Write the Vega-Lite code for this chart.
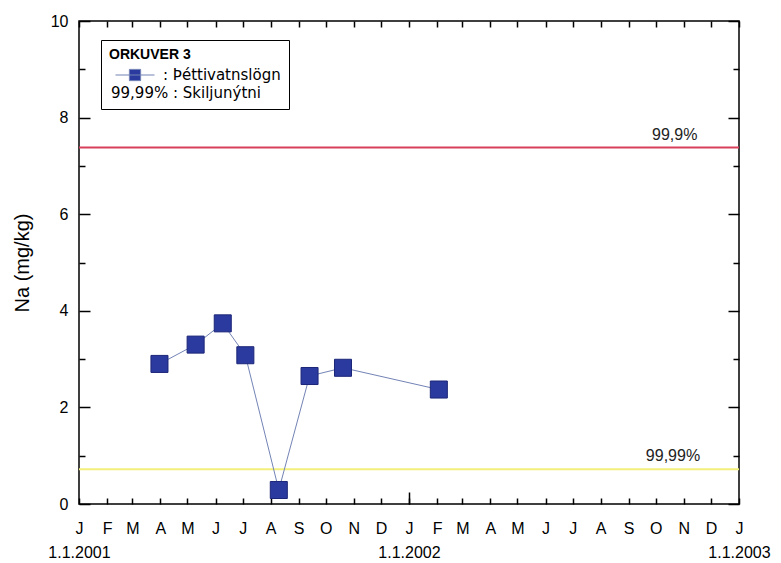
{
  "$schema": "https://vega.github.io/schema/vega-lite/v6.json",
  "width": 660,
  "height": 483,
  "autosize": {"type": "none"},
  "padding": {"left": 79, "top": 21, "right": 42, "bottom": 59},
  "background": "white",
  "config": {
    "view": {"stroke": "black", "strokeWidth": 1.5},
    "font": "Liberation Sans",
    "axis": {
      "domain": false,
      "grid": false,
      "tickColor": "black",
      "tickWidth": 1.5,
      "labelColor": "black",
      "labelFont": "Liberation Sans",
      "labelFontSize": 16,
      "titleFont": "Liberation Sans",
      "titleColor": "black",
      "labelOverlap": false,
      "labelFlush": false,
      "labelBound": false
    }
  },
  "datasets": {
    "na": [
      {"date": "2001-03-31", "na": 2.90, "series": "Þéttivatnslögn"},
      {"date": "2001-05-10", "na": 3.30, "series": "Þéttivatnslögn"},
      {"date": "2001-06-09", "na": 3.74, "series": "Þéttivatnslögn"},
      {"date": "2001-07-04", "na": 3.08, "series": "Þéttivatnslögn"},
      {"date": "2001-08-10", "na": 0.29, "series": "Þéttivatnslögn"},
      {"date": "2001-09-13", "na": 2.65, "series": "Þéttivatnslögn"},
      {"date": "2001-10-20", "na": 2.82, "series": "Þéttivatnslögn"},
      {"date": "2002-02-03", "na": 2.37, "series": "Þéttivatnslögn"}
    ],
    "limits": [
      {"label": "99,9%", "y": 7.38, "date": "2002-11-16", "color": "#d8405a"},
      {"label": "99,99%", "y": 0.72, "date": "2002-11-19", "color": "#f2f07a"}
    ]
  },
  "layer": [
    {
      "data": {"name": "limits"},
      "mark": {"type": "rule", "strokeWidth": 2},
      "encoding": {
        "y": {
          "field": "y", "type": "quantitative",
          "scale": {"domain": [0, 10], "nice": false},
          "axis": {"orient": "right", "values": [1, 3, 5, 7, 9], "tickSize": -6, "labels": false, "title": null}
        },
        "stroke": {"field": "color", "type": "nominal", "scale": null}
      }
    },
    {
      "data": {"name": "na"},
      "mark": {"type": "line", "strokeWidth": 1, "color": "#7383b5"},
      "encoding": {
        "x": {
          "field": "date", "type": "temporal",
          "scale": {"type": "utc", "domain": [{"year": 2001, "month": 1, "date": 1, "utc": true}, {"year": 2003, "month": 1, "date": 1, "utc": true}], "nice": false},
          "axis": {
            "orient": "bottom",
            "tickCount": {"interval": "month", "step": 1},
            "tickSize": -6,
            "labelPadding": 22,
            "labelLineHeight": 24,
            "labelExpr": "utcmonth(datum.value) === 0 ? [substring(utcFormat(datum.value, '%b'), 0, 1), '1.1.' + utcyear(datum.value)] : substring(utcFormat(datum.value, '%b'), 0, 1)",
            "title": null
          }
        },
        "y": {
          "field": "na", "type": "quantitative",
          "scale": {"domain": [0, 10], "nice": false},
          "axis": {
            "orient": "left",
            "values": [0, 2, 4, 6, 8, 10],
            "tickSize": -11,
            "labelPadding": 22,
            "title": "Na (mg/kg)",
            "titleFontSize": 20,
            "titleFontWeight": "normal",
            "titlePadding": 18
          }
        },
        "stroke": {
          "field": "series", "type": "nominal",
          "scale": {"domain": ["Þéttivatnslögn", "Skiljunýtni"], "range": ["#7383b5", "#ffffff"]},
          "legend": {
            "orient": "none",
            "legendX": 22,
            "legendY": 19,
            "title": "ORKUVER 3",
            "titleFontSize": 14,
            "titleFontWeight": "bold",
            "titleColor": "black",
            "titleFont": "Liberation Sans",
            "labelFont": "DejaVu Sans",
            "labelFontSize": 15,
            "labelColor": "black",
            "strokeColor": "black",
            "fillColor": "white",
            "padding": 8,
            "symbolType": "M-2.6,0H2.6M-0.75,-0.75H0.75V0.75H-0.75Z",
            "symbolSize": 225,
            "symbolStrokeWidth": 1,
            "symbolOffset": 18,
            "labelOffset": 20,
            "rowPadding": 2,
            "encode": {
              "symbols": {"update": {"fill": {"value": "#2b3a9e"}, "opacity": {"signal": "datum.value === 'Skiljunýtni' ? 0 : 1"}}},
              "labels": {"update": {
                "text": {"signal": "datum.value === 'Skiljunýtni' ? '99,99% : Skiljunýtni' : ': Þéttivatnslögn'"},
                "dx": {"signal": "datum.value === 'Skiljunýtni' ? -52 : 0"}
              }}
            }
          }
        }
      }
    },
    {
      "data": {"name": "na"},
      "mark": {"type": "square", "filled": true, "size": 290, "color": "#2b3a9e", "stroke": "#1c2678", "strokeWidth": 1, "opacity": 1},
      "encoding": {
        "x": {
          "field": "date", "type": "temporal",
          "scale": {"type": "utc"},
          "axis": {"orient": "top", "tickCount": {"interval": "month", "step": 1}, "tickSize": -6, "labels": false, "title": null}
        },
        "y": {
          "field": "na", "type": "quantitative",
          "axis": {"orient": "right", "values": [0, 2, 4, 6, 8, 10], "tickSize": -11, "labels": false, "title": null}
        }
      }
    },
    {
      "data": {"name": "limits"},
      "mark": {"type": "text", "align": "right", "baseline": "bottom", "dy": -5, "fontSize": 16, "font": "Liberation Sans", "color": "#222222"},
      "encoding": {
        "x": {
          "field": "date", "type": "temporal",
          "scale": {"type": "utc"},
          "axis": {"orient": "bottom", "values": [{"year": 2002, "month": 1, "date": 1, "utc": true}], "tickSize": -12, "labels": false, "title": null}
        },
        "y": {
          "field": "y", "type": "quantitative",
          "axis": {"orient": "left", "values": [1, 3, 5, 7, 9], "tickSize": -6, "labels": false, "title": null}
        },
        "text": {"field": "label", "type": "nominal"}
      }
    }
  ],
  "resolve": {"axis": {"x": "independent", "y": "independent"}}
}
